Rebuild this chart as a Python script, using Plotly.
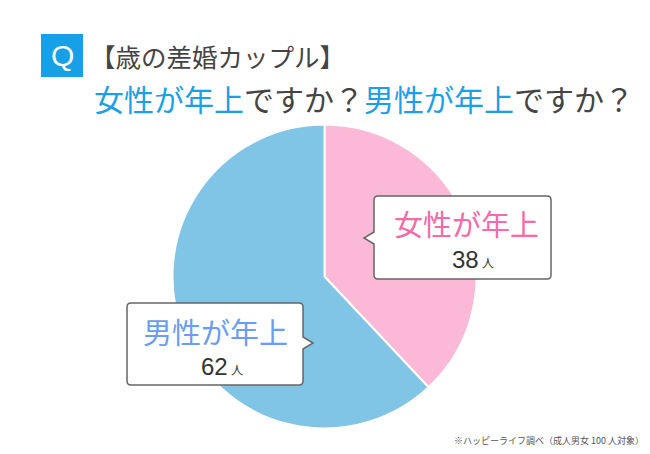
import plotly.graph_objects as go

W, H = 650, 454

# data
labels = ["女性が年上", "男性が年上"]
values = [38, 62]
unit = "人"
colors_slice = ["#FBB8D7", "#80C5E6"]
colors_label = ["#F56BA7", "#6A9EF2"]
title_q = "Q"
title_line1 = "【歳の差婚カップル】"
title_line2_parts = [("女性が年上", "blue"), ("ですか？", "gray"), ("男性が年上", "blue"), ("ですか？", "gray")]
footnote = "※ハッピーライフ調べ（成人男女 100 人対象）"

FONT = "Noto Sans CJK JP"
LATIN = "Liberation Sans, Noto Sans CJK JP"
BLUE = "#1C9FE6"
GRAY = "#444444"


def px(x):
    return x / W


def py(y):
    return 1 - y / H


# pie geometry
cx, cy, r = 324.5, 276.5, 152

fig = go.Figure()
fig.add_trace(go.Pie(
    labels=labels, values=values, sort=False, direction="clockwise", rotation=0,
    marker=dict(colors=colors_slice, line=dict(color="white", width=2)),
    textinfo="none", hoverinfo="skip", showlegend=False,
    domain=dict(x=[px(cx - r), px(cx + r)], y=[py(cy + r), py(cy - r)]),
))


def callout(L, T, R, B, side, tip, rad=4, half=6):
    tx, ty = tip
    d = f"M {px(L+rad)},{py(T)} L {px(R-rad)},{py(T)} Q {px(R)},{py(T)} {px(R)},{py(T+rad)} "
    if side == "right":
        d += f"L {px(R)},{py(ty-half)} L {px(tx)},{py(ty)} L {px(R)},{py(ty+half)} "
    d += f"L {px(R)},{py(B-rad)} Q {px(R)},{py(B)} {px(R-rad)},{py(B)} L {px(L+rad)},{py(B)} Q {px(L)},{py(B)} {px(L)},{py(B-rad)} "
    if side == "left":
        d += f"L {px(L)},{py(ty+half)} L {px(tx)},{py(ty)} L {px(L)},{py(ty-half)} "
    d += f"L {px(L)},{py(T+rad)} Q {px(L)},{py(T)} {px(L+rad)},{py(T)} Z"
    return dict(type="path", path=d, xref="paper", yref="paper",
                fillcolor="white", line=dict(color="#666666", width=1.5), layer="above")


shapes = [
    dict(type="rect", xref="paper", yref="paper", x0=px(41), x1=px(83), y0=py(77), y1=py(34),
         fillcolor="#18A0E6", line=dict(width=0)),
    callout(374, 196, 551, 279, "left", (364, 238)),
    callout(127, 303, 303, 385, "right", (313, 343)),
]

annotations = []


def ann(text, x, y, size, color, xanchor="center", family=FONT):
    annotations.append(dict(text=text, x=px(x), y=py(y), xref="paper", yref="paper",
                            xanchor=xanchor, yanchor="middle", showarrow=False,
                            font=dict(family=family, size=size, color=color)))


ann(title_q, 62, 56, 30, "white", family=LATIN)
ann(title_line1, 88, 56, 25.5, GRAY, "left")
line2 = "".join(
    f'<span style="color:{BLUE if c == "blue" else GRAY}">{t}</span>' for t, c in title_line2_parts)
ann(line2, 92, 98, 30, GRAY, "left")

ann(labels[0], 466, 223, 29, colors_label[0])
ann(f'{values[0]}<span style="font-size:12px"> {unit}</span>', 473, 259, 24, "#333333", family=LATIN)
ann(labels[1], 215, 331, 29, colors_label[1])
ann(f'{values[1]}<span style="font-size:12px"> {unit}</span>', 222, 366, 24, "#333333", family=LATIN)

ann(footnote, 646, 440, 9, "#555555", "right")

fig.update_layout(
    width=W, height=H, margin=dict(l=0, r=0, t=0, b=0),
    paper_bgcolor="white", plot_bgcolor="white",
    shapes=shapes, annotations=annotations,
)

fig.write_html("out.html", config={"displayModeBar": False},
               post_script="document.body.style.margin='0';")
